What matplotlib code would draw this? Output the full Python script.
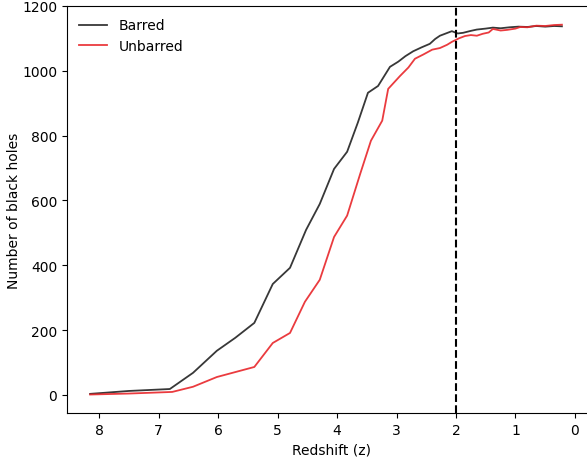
import matplotlib.pyplot as plt

# black hole counts vs redshift
z_barred = [8.15, 7.5, 6.81, 6.42, 6.02, 5.71, 5.39, 5.08, 4.79, 4.52, 4.29,
            4.05, 3.83, 3.65, 3.48, 3.31, 3.11, 2.97, 2.85, 2.72, 2.58, 2.44,
            2.35, 2.27, 2.07, 1.97, 1.88, 1.75, 1.65, 1.5, 1.38, 1.25, 1.1,
            0.95, 0.8, 0.65, 0.5, 0.35, 0.22]
n_barred = [3, 12, 18, 68, 136, 176, 222, 342, 392, 509, 589,
            697, 750, 840, 932, 953, 1012, 1028, 1045, 1060, 1072, 1083,
            1098, 1108, 1122, 1115, 1117, 1123, 1127, 1130, 1133, 1131, 1134,
            1136, 1135, 1138, 1136, 1138, 1137]

z_unbarred = [8.15, 7.5, 6.77, 6.42, 6.02, 5.39, 5.08, 4.79, 4.54, 4.29, 4.05,
              3.83, 3.61, 3.43, 3.24, 3.14, 2.94, 2.80, 2.69, 2.55, 2.40, 2.27,
              2.15, 2.07, 1.95, 1.85, 1.75, 1.65, 1.55, 1.45, 1.38, 1.25, 1.14,
              1.0, 0.92, 0.8, 0.65, 0.5, 0.35, 0.22]
n_unbarred = [1, 4, 9, 25, 55, 86, 160, 191, 287, 355, 487,
              553, 682, 784, 846, 944, 984, 1010, 1037, 1050, 1065, 1070,
              1080, 1089, 1100, 1107, 1110, 1108, 1114, 1118, 1129, 1124, 1126,
              1130, 1135, 1134, 1139, 1138, 1141, 1142]

z_cut = 2

fig = plt.figure(figsize=(5.87, 4.6), dpi=100)
ax = fig.add_axes([0.114, 0.1, 0.9, 0.885])

ax.plot(z_barred, n_barred, color="#222222", alpha=0.9, lw=1.3, label="Barred")
ax.plot(z_unbarred, n_unbarred, color="#e8262a", alpha=0.9, lw=1.3, label="Unbarred")
ax.axvline(z_cut, color="k", ls="--", lw=1.5)

ax.set_xlim(8.54, -0.34)
ax.set_ylim(-56, 1200)
ax.set_xticks(range(0, 9))
ax.set_xlabel("Redshift (z)", fontsize=10)
ax.set_ylabel("Number of black holes", fontsize=10, labelpad=1)
ax.tick_params(labelsize=10)
ax.legend(loc="upper left", frameon=False, fontsize=10)

plt.savefig("out.png", dpi=100)
